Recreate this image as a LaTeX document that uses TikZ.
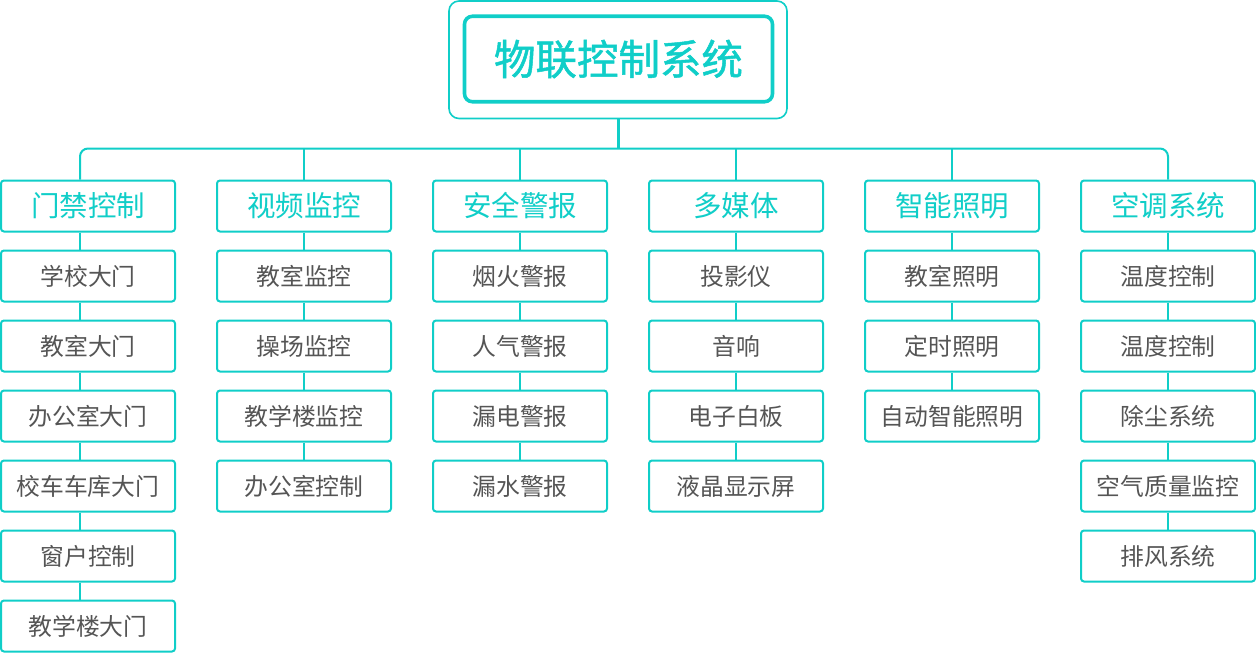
\documentclass[tikz,border=0pt]{standalone}
\usepackage{fontspec}
\setmainfont{Noto Sans CJK SC}
\newfontfamily\titlefont[FakeBold=1.2]{Noto Sans CJK SC}
\definecolor{teal1}{RGB}{16,206,200}
\definecolor{txtgray}{RGB}{85,85,85}
\tikzset{
  hdrbox/.style={draw=teal1, fill=white, line width=2pt, rounded corners=3pt, minimum width=174pt, minimum height=51pt, inner sep=0pt, text=teal1, font=\fontsize{28.5}{28.5}\selectfont},
  itembox/.style={draw=teal1, fill=white, line width=2pt, rounded corners=3pt, minimum width=174pt, minimum height=51pt, inner sep=0pt, text=txtgray, font=\fontsize{23.8}{23.8}\selectfont},
  link/.style={draw=teal1, line width=2pt},
}
\begin{document}
\begin{tikzpicture}[x=1pt,y=-1pt]
\useasboundingbox (0,0) rectangle (1256,653);
% top boxes
\node[draw=teal1, line width=1.6pt, rounded corners=10pt, minimum width=338pt, minimum height=117.5pt, inner sep=0pt] (frame) at (618,59.75) {};
\node[draw=teal1, line width=3.6pt, rounded corners=8pt, minimum width=308pt, minimum height=85.5pt, inner sep=0pt, text=teal1, font=\titlefont\fontsize{41.5}{41.5}\selectfont] (root) at (618.5,59) {物联控制系统};
\coordinate (bus) at (618.5,148.5);
\draw[link, line width=3pt] (frame.south -| bus) -- (bus);
% column headers
\foreach \i/\h [count=\c] in {0/门禁控制, 1/视频监控, 2/安全警报, 3/多媒体, 4/智能照明, 5/空调系统} {
  \node[hdrbox] (h\c) at ({88+216*\i},206) {\h};
}
\coordinate (colA) at (80,148.5);
% bus line with rounded ends
\draw[link, rounded corners=8pt] (h1.north -| colA) -- (colA) -- (h6.north |- bus) -- (h6.north);
\foreach \c in {2,3,4,5} { \draw[link] (h\c.north |- bus) -- (h\c.north); }
% column 1
\foreach \t [count=\k] in {学校大门,教室大门,办公室大门,校车车库大门,窗户控制,教学楼大门} {
  \node[itembox] (a\k) at (88,{206+70*\k}) {\t};
}
\draw[link] (h1.south -| colA) -- (a1.north -| colA);
\foreach \k [evaluate=\k as \n using int(\k+1)] in {1,...,5} { \draw[link] (a\k.south -| colA) -- (a\n.north -| colA); }
% column 2
\foreach \t [count=\k] in {教室监控,操场监控,教学楼监控,办公室控制} {
  \node[itembox] (b\k) at (304,{206+70*\k}) {\t};
}
\draw[link] (h2) -- (b1); \draw[link] (b1) -- (b2); \draw[link] (b2) -- (b3); \draw[link] (b3) -- (b4);
% column 3
\foreach \t [count=\k] in {烟火警报,人气警报,漏电警报,漏水警报} {
  \node[itembox] (c\k) at (520,{206+70*\k}) {\t};
}
\draw[link] (h3) -- (c1); \draw[link] (c1) -- (c2); \draw[link] (c2) -- (c3); \draw[link] (c3) -- (c4);
% column 4
\foreach \t [count=\k] in {投影仪,音响,电子白板,液晶显示屏} {
  \node[itembox] (d\k) at (736,{206+70*\k}) {\t};
}
\draw[link] (h4) -- (d1); \draw[link] (d1) -- (d2); \draw[link] (d2) -- (d3); \draw[link] (d3) -- (d4);
% column 5
\foreach \t [count=\k] in {教室照明,定时照明,自动智能照明} {
  \node[itembox] (e\k) at (952,{206+70*\k}) {\t};
}
\draw[link] (h5) -- (e1); \draw[link] (e1) -- (e2); \draw[link] (e2) -- (e3);
% column 6
\foreach \t [count=\k] in {温度控制,温度控制,除尘系统,空气质量监控,排风系统} {
  \node[itembox] (f\k) at (1168,{206+70*\k}) {\t};
}
\draw[link] (h6) -- (f1); \draw[link] (f1) -- (f2); \draw[link] (f2) -- (f3); \draw[link] (f3) -- (f4); \draw[link] (f4) -- (f5);
\end{tikzpicture}
\end{document}
